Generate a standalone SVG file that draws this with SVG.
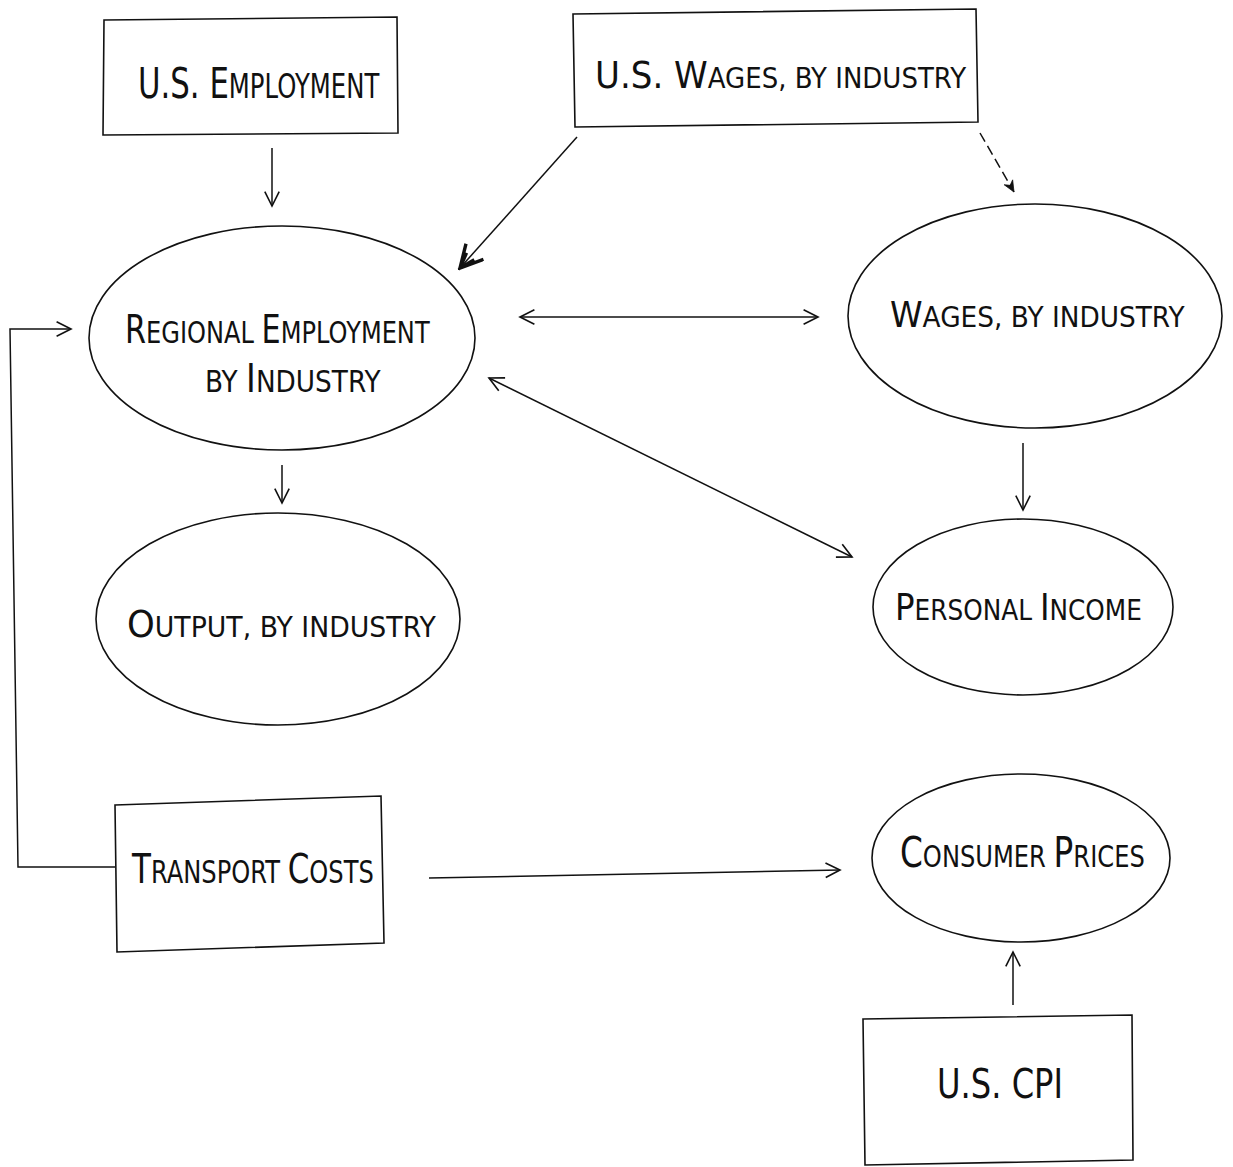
<svg xmlns="http://www.w3.org/2000/svg" width="1233" height="1167" viewBox="0 0 1233 1167">
<defs>
<style>
.shape{fill:none;stroke:#111;stroke-width:1.6}
.conn{fill:none;stroke:#111;stroke-width:1.5}
.lbl{font-family:"DejaVu Sans","Liberation Sans",sans-serif;fill:#111;font-weight:normal}
</style>
<marker id="open" viewBox="0 0 20 20" refX="18" refY="10" markerWidth="18" markerHeight="18" markerUnits="userSpaceOnUse" orient="auto-start-reverse">
<path d="M2,2 L18,10 L2,18" fill="none" stroke="#111" stroke-width="1.8"/>
</marker>
<marker id="bold" viewBox="0 0 20 20" refX="18" refY="10" markerWidth="26" markerHeight="26" markerUnits="userSpaceOnUse" orient="auto">
<path d="M1,1 L18,10 L1,19 M6,6 L18,10 L6,14" fill="none" stroke="#111" stroke-width="2.6"/>
</marker>
<marker id="small" viewBox="0 0 20 20" refX="18" refY="10" markerWidth="14" markerHeight="14" markerUnits="userSpaceOnUse" orient="auto">
<path d="M2,3 L18,10 L2,17 L7,10 Z" fill="#111" stroke="#111" stroke-width="1"/>
</marker>
</defs>
<rect width="1233" height="1167" fill="#fff"/>

<g id="connectors">
<line class="conn" x1="272" y1="148" x2="272" y2="206" marker-end="url(#open)"/>
<line class="conn" x1="577" y1="137" x2="460" y2="268" stroke-width="1.8" marker-end="url(#bold)"/>
<line class="conn" x1="980" y1="133" x2="1014" y2="192" stroke-dasharray="10,5" marker-end="url(#small)"/>
<polyline class="conn" points="115,867 18,867 10,329 71,329" marker-end="url(#open)"/>
<line class="conn" x1="520" y1="317" x2="818" y2="317" marker-start="url(#open)" marker-end="url(#open)"/>
<line class="conn" x1="489" y1="378" x2="852" y2="557" stroke-width="1.8" marker-start="url(#open)" marker-end="url(#open)"/>
<line class="conn" x1="282" y1="465" x2="282" y2="503" stroke-width="1.8" marker-end="url(#open)"/>
<line class="conn" x1="1023" y1="443" x2="1023" y2="510" stroke-width="2.2" marker-end="url(#open)"/>
<line class="conn" x1="429" y1="878" x2="840" y2="870" marker-end="url(#open)"/>
<line class="conn" x1="1013" y1="1005" x2="1013" y2="952" stroke-width="1.8" marker-end="url(#open)"/>
</g>

<g id="us-employment">
<path class="shape" d="M104,20 L397,17 L398,133 L103,135 Z"/>
<text class="lbl" transform="translate(138,98) scale(0.716,1)" font-size="43">U.S. E<tspan font-size="34">MPLOYMENT</tspan></text>
</g>

<g id="us-wages">
<path class="shape" d="M573,14 L976,9 L978,122 L575,127 Z"/>
<text class="lbl" transform="translate(595,88) scale(0.897,1)" font-size="38">U.S. W<tspan font-size="29">AGES, BY INDUSTRY</tspan></text>
</g>

<g id="regional-employment">
<ellipse class="shape" cx="282" cy="338" rx="193" ry="112"/>
<text class="lbl" transform="translate(125,343) scale(0.777,1)" font-size="39">R<tspan font-size="31">EGIONAL </tspan>E<tspan font-size="31">MPLOYMENT</tspan></text>
<text class="lbl" transform="translate(205,392) scale(0.85,1)" font-size="31">BY <tspan font-size="39">I</tspan>NDUSTRY</text>
</g>

<g id="wages">
<ellipse class="shape" cx="1035" cy="316" rx="187" ry="112"/>
<text class="lbl" transform="translate(890,327) scale(0.942,1)" font-size="35">W<tspan font-size="28">AGES, BY INDUSTRY</tspan></text>
</g>

<g id="output">
<ellipse class="shape" cx="278" cy="619" rx="182" ry="106"/>
<text class="lbl" transform="translate(127,637) scale(0.955,1)" font-size="37">O<tspan font-size="28">UTPUT, BY INDUSTRY</tspan></text>
</g>

<g id="personal-income">
<ellipse class="shape" cx="1023" cy="607" rx="150" ry="88"/>
<text class="lbl" transform="translate(895,620) scale(0.855,1)" font-size="38">P<tspan font-size="29">ERSONAL </tspan>I<tspan font-size="29">NCOME</tspan></text>
</g>

<g id="transport-costs">
<path class="shape" d="M115,805 L381,796 L384,943 L117,952 Z"/>
<text class="lbl" transform="translate(132,883) scale(0.755,1)" font-size="41">T<tspan font-size="32">RANSPORT </tspan>C<tspan font-size="32">OSTS</tspan></text>
</g>

<g id="consumer-prices">
<ellipse class="shape" cx="1021" cy="858" rx="149" ry="84"/>
<text class="lbl" transform="translate(900,867) scale(0.78,1)" font-size="42">C<tspan font-size="31">ONSUMER </tspan>P<tspan font-size="31">RICES</tspan></text>
</g>

<g id="us-cpi">
<path class="shape" d="M863,1019 L1132,1015 L1133,1160 L865,1165 Z"/>
<text class="lbl" transform="translate(937,1098) scale(0.785,1)" font-size="41">U.S. CPI</text>
</g>
</svg>
